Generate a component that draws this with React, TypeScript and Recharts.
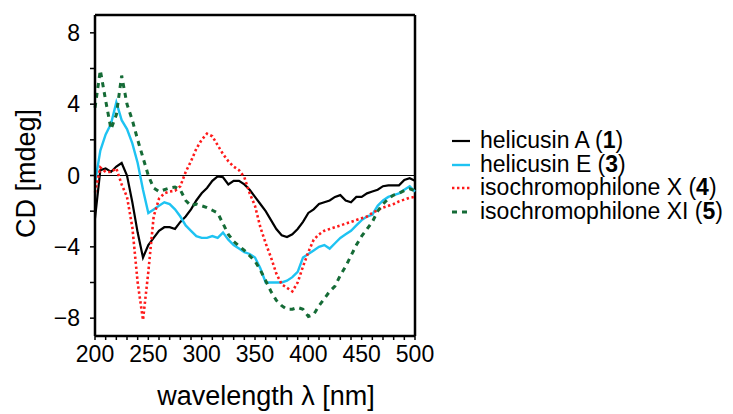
import { LineChart, Line, XAxis, YAxis, ReferenceLine } from 'recharts';

// CD spectra, values (every 5 nm)
const wavelengths = [
  200, 205, 210, 215, 220, 225, 230, 235, 240, 245,
  250, 255, 260, 265, 270, 275, 280, 285, 290, 295,
  300, 305, 310, 315, 320, 325, 330, 335, 340, 345,
  350, 355, 360, 365, 370, 375, 380, 385, 390, 395,
  400, 405, 410, 415, 420, 425, 430, 435, 440, 445,
  450, 455, 460, 465, 470, 475, 480, 485, 490, 495,
  500,
];

const helicusinA = [
  -2.4, 0.3, 0.4, 0.2, 0.5, 0.7, 0.0, -1.5, -3.2, -4.6,
  -3.9, -3.5, -3.1, -2.9, -2.9, -3.0, -2.6, -2.3, -1.9, -1.4,
  -1.0, -0.7, -0.3, -0.05, -0.1, -0.5, -0.3, -0.3, -0.5, -0.8,
  -1.2, -1.6, -2.0, -2.5, -3.0, -3.35, -3.45, -3.3, -3.0, -2.6,
  -2.1, -1.9, -1.6, -1.5, -1.4, -1.2, -1.1, -1.4, -1.5, -1.2,
  -1.2, -1.0, -0.9, -0.8, -0.6, -0.55, -0.55, -0.55, -0.25, -0.15,
  -0.3,
];

const helicusinE = [
  -0.4, 1.4, 2.3, 2.9, 4.1, 3.1, 2.6, 1.8, 0.7, -0.8,
  -2.1, -1.9, -1.7, -1.5, -1.6, -1.9, -2.3, -2.8, -3.1, -3.4,
  -3.5, -3.5, -3.4, -3.5, -3.2, -3.6, -3.9, -4.1, -4.3, -4.4,
  -4.6, -5.2, -6.0, -6.0, -6.0, -6.0, -5.9, -5.7, -5.4, -4.6,
  -4.4, -4.2, -4.0, -3.9, -4.1, -3.8, -3.5, -3.3, -3.1, -2.8,
  -2.5, -2.3, -2.2, -1.7, -1.4, -1.2, -1.1, -1.0, -0.8, -0.6,
  -0.9,
];

const isochromophiloneX = [
  -0.95, 0.45, 0.2, 0.2, 0.4, -0.5, -1.2, -2.9, -6.0, -8.1,
  -5.4, -2.3, -1.3, -1.0, -0.9, -0.85, -0.6, 0.2, 0.8, 1.5,
  2.0, 2.35, 2.2, 1.7, 1.2, 0.8, 0.5, 0.3, -0.1, -1.0,
  -1.7, -2.9, -3.8, -4.6, -5.5, -6.1, -6.3, -6.5, -6.0, -5.1,
  -4.3, -3.6, -3.3, -3.1, -3.0, -2.9, -2.8, -2.7, -2.6, -2.5,
  -2.4, -2.3, -2.1, -1.95, -1.8, -1.7, -1.6, -1.45, -1.35, -1.25,
  -1.2,
];

const isochromophiloneXI = [
  3.8, 5.9, 4.2, 2.6, 3.4, 5.6, 4.0, 3.1, 2.0, 1.0,
  0.0, -0.7, -0.9, -0.8, -0.7, -0.65, -0.8, -1.4, -1.7, -1.6,
  -1.7, -1.8, -1.95, -2.1, -2.7, -3.3, -3.7, -3.95, -4.2, -4.5,
  -4.8, -5.3, -5.9, -6.5, -7.0, -7.3, -7.5, -7.5, -7.4, -7.5,
  -7.9, -7.8, -7.3, -6.9, -6.5, -6.2, -5.6, -5.1, -4.5, -3.9,
  -3.4, -3.0, -2.6, -2.0, -1.6, -1.3, -1.1, -1.0, -0.85, -0.75,
  -0.85,
];

const xTicks = [
  200, 210, 220, 230, 240, 250, 260, 270, 280, 290, 300, 310, 320, 330, 340, 350,
  360, 370, 380, 390, 400, 410, 420, 430, 440, 450, 460, 470, 480, 490, 500,
];
const yTicks = [-8, -6, -4, -2, 0, 2, 4, 6, 8];

const series = [
  { key: 'a', name: 'helicusin A', num: '1', color: '#000000', dash: undefined, width: 2.2 },
  { key: 'e', name: 'helicusin E', num: '3', color: '#1ec3f2', dash: undefined, width: 2.4 },
  { key: 'x', name: 'isochromophilone X', num: '4', color: '#ff1a1a', dash: '2.4 2.6', width: 2.6 },
  { key: 'xi', name: 'isochromophilone XI', num: '5', color: '#156b36', dash: '5 5', width: 3 },
];

const data = wavelengths.map((w, i) => ({
  w,
  a: helicusinA[i],
  e: helicusinE[i],
  x: isochromophiloneX[i],
  xi: isochromophiloneXI[i],
}));

const FONT = '"Liberation Sans", Arial, sans-serif';
const fmtNum = (v: number) => (v < 0 ? `\u2212${Math.abs(v)}` : `${v}`);

export default function App() {
  return (
    <div style={{ position: 'absolute', left: 0, top: 0, width: 733, height: 414, background: '#fff', fontFamily: FONT }}>
      <LineChart
        width={733}
        height={414}
        data={data}
        margin={{ top: 15, right: 318, bottom: 0, left: 0 }}
      >
        <XAxis
          dataKey="w"
          type="number"
          domain={[200, 500]}
          ticks={xTicks}
          interval={0}
          height={78}
          tickSize={4}
          tickMargin={6}
          tickFormatter={(v: number) => (v % 50 === 0 ? `${v}` : '')}
          tick={{ fill: '#000', fontSize: 23, fontFamily: FONT }}
          axisLine={{ stroke: '#000', strokeWidth: 2.5 }}
          tickLine={{ stroke: '#000', strokeWidth: 1.5 }}
          label={{ value: 'wavelength λ [nm]', position: 'insideBottom', offset: 9, dx: 11, fill: '#000', fontSize: 27, fontFamily: FONT }}
        />
        <YAxis
          type="number"
          domain={[-9, 9]}
          ticks={yTicks}
          interval={0}
          width={95}
          tickSize={5}
          tickMargin={10}
          tickFormatter={(v: number) => (v % 4 === 0 ? fmtNum(v) : '')}
          tick={{ fill: '#000', fontSize: 23, fontFamily: FONT }}
          axisLine={{ stroke: '#000', strokeWidth: 2.5 }}
          tickLine={{ stroke: '#000', strokeWidth: 1.5 }}
          label={{ value: 'CD [mdeg]', angle: -90, position: 'center', dx: -22, dy: -2, fill: '#000', fontSize: 27, fontFamily: FONT }}
        />
        <ReferenceLine y={0} stroke="#000" strokeWidth={1} />
        <ReferenceLine y={9} stroke="#000" strokeWidth={2.5} />
        <ReferenceLine x={500} stroke="#000" strokeWidth={2.5} />
        {series.map((s) => (
          <Line
            key={s.key}
            dataKey={s.key}
            type="linear"
            stroke={s.color}
            strokeWidth={s.width}
            strokeDasharray={s.dash}
            dot={false}
            isAnimationActive={false}
          />
        ))}
      </LineChart>
      <div style={{ position: 'absolute', left: 450, top: 129, fontSize: 23, lineHeight: '23.7px', color: '#000', whiteSpace: 'nowrap' }}>
        {series.map((s) => (
          <div key={s.key} style={{ display: 'flex', alignItems: 'center' }}>
            <svg width={26} height={10} style={{ marginRight: 4 }}>
              <line x1={2} y1={5} x2={20} y2={5} stroke={s.color} strokeWidth={s.width} strokeDasharray={s.dash} />
            </svg>
            <span>
              {s.name} (<b>{s.num}</b>)
            </span>
          </div>
        ))}
      </div>
    </div>
  );
}
